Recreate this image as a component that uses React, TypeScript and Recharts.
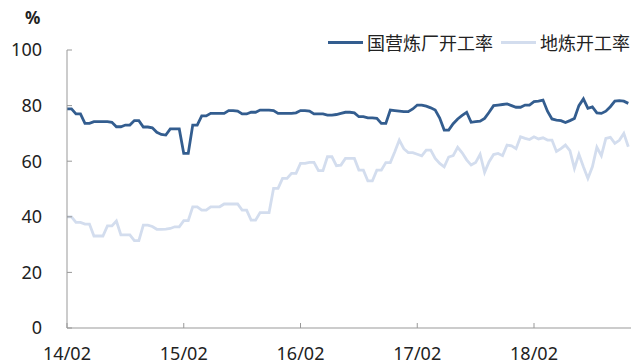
import { LineChart, Line, XAxis, YAxis } from "recharts";

// fortnightly readings, starting 2014/02
const stateRate = [
  78.8, 78.8, 77, 77, 73.6, 73.6, 74.2, 74.2, 74.2, 74.2,
  74.0, 72.4, 72.4, 73, 73, 74.6, 74.6, 72.3, 72.3, 72.0,
  70.4, 69.6, 69.4, 71.6, 71.6, 71.6, 62.8, 62.8, 73, 73,
  76.3, 76.3, 77.2, 77.2, 77.2, 77.2, 78.2, 78.2, 78.0, 77,
  77, 77.6, 77.6, 78.4, 78.4, 78.4, 78.2, 77.2, 77.2, 77.2,
  77.2, 77.4, 78.2, 78.2, 78.0, 77.0, 77, 77, 76.6, 76.6,
  76.8, 77.2, 77.6, 77.6, 77.4, 76, 76, 75.6, 75.6, 75.4,
  73.6, 73.6, 78.4, 78.2, 78.0, 77.8, 77.8, 78.8, 80.2, 80.2,
  79.8, 79.2, 78.4, 75.5, 71.2, 71.2, 73.5, 75.2, 76.5, 77.6,
  74.0, 74.2, 74.4, 75.4, 77.6, 80.0, 80.2, 80.4, 80.6, 80.0,
  79.4, 79.4, 80.2, 80.2, 81.4, 81.6, 82.0, 78.0, 75.2, 74.8,
  74.6, 73.9, 74.6, 75.4, 80, 82.4, 79, 79.5, 77.4, 77.2,
  78, 79.6, 81.6, 81.8, 81.6, 80.8,
];

const localRate = [
  40, 40, 38, 38, 37.4, 37.4, 33.1, 33.1, 33.1, 36.7,
  36.7, 38.5, 33.5, 33.5, 33.5, 31.4, 31.4, 37, 37, 36.5,
  35.5, 35.5, 35.6, 35.8, 36.4, 36.4, 38.6, 38.6, 43.6, 43.6,
  42.4, 42.4, 43.6, 43.6, 43.6, 44.6, 44.6, 44.6, 44.6, 42.4,
  42.4, 38.8, 38.8, 41.5, 41.5, 41.5, 50.2, 50.2, 53.8, 53.8,
  55.6, 55.6, 59.2, 59.2, 59.6, 59.6, 56.6, 56.6, 61.6, 61.6,
  58.4, 58.6, 61, 61, 61, 56.8, 56.8, 52.9, 52.9, 56.8,
  56.8, 59.5, 59.5, 63.4, 67.6, 64.5, 63.1, 63.1, 62.5, 61.9,
  64, 64, 61, 59.2, 58, 61.5, 62, 65, 63, 60.5,
  58.6, 59.5, 62.5, 56, 59.8, 62.4, 62.8, 62, 65.8, 65.5,
  64.5, 68.8, 68.2, 67.8, 68.8, 68.0, 68.4, 67.6, 67.6, 63.5,
  64.5, 65.8, 63.8, 57.4, 62.5, 58, 53.8, 58, 65, 62,
  68.2, 68.6, 66.4, 67.5, 70, 65.2,
];

const tickPeriods = [0, 26, 52, 78, 104];
const tickLabels = ["14/02", "15/02", "16/02", "17/02", "18/02"];
const yTicks = [0, 20, 40, 60, 80, 100];

const seriesNames = ["国营炼厂开工率", "地炼开工率"];
const colors = ["#335d8f", "#d3ddee"];

const data = stateRate.map((v, i) => ({ t: i, state: v, local: localRate[i] }));

const font = '"Noto Sans", "Noto Sans CJK SC", sans-serif';

function LegendBox() {
  return (
    <div
      style={{
        position: "absolute",
        left: 328,
        top: 29,
        display: "flex",
        alignItems: "center",
        fontFamily: font,
        fontSize: 18,
        color: "#222",
        whiteSpace: "nowrap",
      }}
    >
      {seriesNames.map((name, i) => (
        <div key={name} style={{ display: "flex", alignItems: "center", marginRight: i === 0 ? 8 : 0 }}>
          <div style={{ width: 35, height: 3, background: colors[i], marginRight: 4 }} />
          <span>{name}</span>
        </div>
      ))}
    </div>
  );
}

export default function App() {
  return (
    <div style={{ position: "absolute", left: 0, top: 0, width: 631, height: 361, background: "#fff" }}>
      <LineChart
        width={631}
        height={361}
        data={data}
        margin={{ top: 50, right: 0, bottom: 0, left: 0 }}
      >
        <XAxis
          type="number"
          dataKey="t"
          domain={[0, 125.6]}
          ticks={tickPeriods}
          tickFormatter={(v: number) => tickLabels[tickPeriods.indexOf(v)] ?? ""}
          stroke="#999"
          tickSize={-5}
          tickMargin={24}
          height={33}
          tick={{ fill: "#222", fontSize: 18, fontFamily: font }}
        />
        <YAxis
          domain={[0, 100]}
          ticks={yTicks}
          width={67}
          stroke="#999"
          tickSize={-5}
          tickMargin={30}
          tick={{ fill: "#222", fontSize: 18, fontFamily: font }}
        />
        <Line
          type="linear"
          dataKey="local"
          name={seriesNames[1]}
          stroke={colors[1]}
          strokeWidth={2.8}
          dot={false}
          isAnimationActive={false}
        />
        <Line
          type="linear"
          dataKey="state"
          name={seriesNames[0]}
          stroke={colors[0]}
          strokeWidth={2.8}
          dot={false}
          isAnimationActive={false}
        />
      </LineChart>
      <div
        style={{
          position: "absolute",
          left: 25,
          top: 6,
          fontFamily: font,
          fontSize: 17,
          fontWeight: "bold",
          color: "#222",
        }}
      >
        %
      </div>
      <LegendBox />
    </div>
  );
}
